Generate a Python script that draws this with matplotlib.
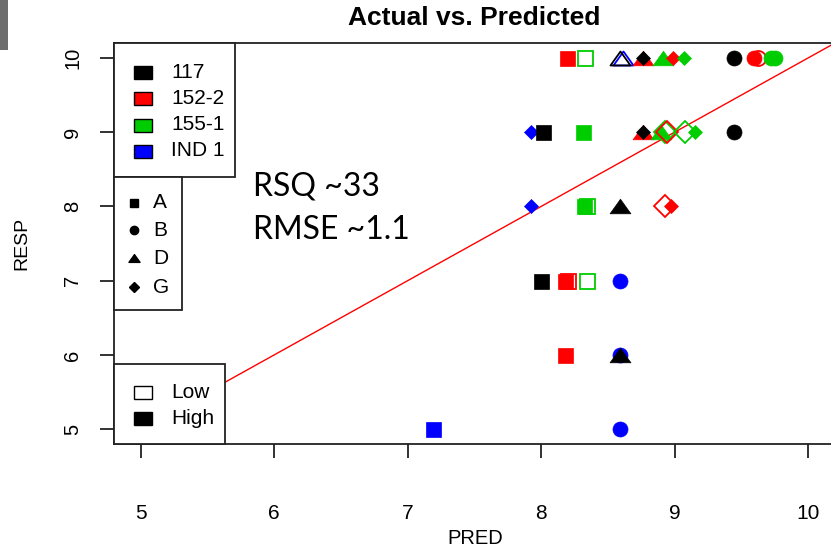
import matplotlib
matplotlib.use("Agg")
import matplotlib.pyplot as plt
from matplotlib.patches import Rectangle
from matplotlib.lines import Line2D
from matplotlib.path import Path

W, H, DPI = 831, 551, 100

# ---- observations -------------------------------------------------------
pred = [8.19, 8.33, 8.61, 8.59, 8.76, 8.76, 8.91, 8.99, 9.07, 9.44, 9.59, 9.62, 9.72, 9.75,
        7.92, 8.01, 8.31, 8.76, 8.76, 8.90, 8.93, 8.94, 9.08, 9.15, 9.44,
        7.92, 8.32, 8.34, 8.59, 8.93, 8.97,
        8.00, 8.18, 8.20, 8.34, 8.59,
        8.18, 8.59, 8.59,
        7.19, 8.59]
resp = [10, 10, 10, 10, 10, 10, 10, 10, 10, 10, 10, 10, 10, 10,
        9, 9, 9, 9, 9, 9, 9, 9, 9, 9, 9,
        8, 8, 8, 8, 8, 8,
        7, 7, 7, 7, 7,
        6, 6, 6,
        5, 5]
line_id = ["152-2", "155-1", "IND 1", "117", "152-2", "117", "155-1", "152-2", "155-1", "117",
           "152-2", "152-2", "155-1", "155-1",
           "IND 1", "117", "155-1", "152-2", "117", "155-1", "155-1", "152-2", "155-1", "155-1", "117",
           "IND 1", "155-1", "155-1", "117", "152-2", "152-2",
           "117", "152-2", "152-2", "155-1", "IND 1",
           "152-2", "IND 1", "117",
           "IND 1", "IND 1"]
group = ["A", "A", "D", "D", "D", "G", "D", "G", "G", "B", "B", "B", "B", "B",
         "G", "A", "A", "D", "G", "D", "G", "G", "G", "G", "B",
         "G", "A", "A", "D", "G", "G",
         "A", "A", "A", "A", "B",
         "A", "B", "D",
         "A", "B"]
level = ["High", "Low", "Low", "Low", "High", "High", "High", "High", "High", "High", "High", "Low", "High", "High",
         "High", "High", "High", "High", "High", "High", "Low", "Low", "Low", "High", "High",
         "High", "High", "Low", "High", "Low", "High",
         "High", "High", "Low", "Low", "High",
         "High", "High", "High",
         "High", "High"]

lines = ["117", "152-2", "155-1", "IND 1"]
line_colors = ["#000000", "#FF0000", "#00CD00", "#0000FF"]
groups = ["A", "B", "D", "G"]
levels = ["Low", "High"]
x_ticks = [5, 6, 7, 8, 9, 10]
y_ticks = [5, 6, 7, 8, 9, 10]
fit_text = ["RSQ ~33", "RMSE ~1.1"]

# ---- styling ------------------------------------------------------------
FONT = "Liberation Sans"
tri = Path([(0, 0.7), (-1, -0.7), (1, -0.7), (0, 0.7)],
           [Path.MOVETO, Path.LINETO, Path.LINETO, Path.CLOSEPOLY])
group_marker = {"A": "s", "B": "o", "D": tri, "G": "D"}
group_size = {"A": 10.8, "B": 10.8, "D": 15.0, "G": 7.2}
open_size = {"A": 10.8, "B": 10.8, "D": 14.4, "G": 11.2}
color_of = dict(zip(lines, line_colors))

fig = plt.figure(figsize=(W / DPI, H / DPI), dpi=DPI)
fig.patch.set_facecolor("white")


def fx(x):
    return x / W


def fy(y):
    return 1 - y / H


ax = fig.add_axes([fx(114), fy(444), (835 - 114) / W, (444 - 43) / H])
ax.set_xlim(4.8, 10.2)
ax.set_ylim(4.8, 10.2)

# identity reference line
ax.axline((0, 0), slope=1, color="#FF0000", lw=1.0, zorder=1)

for x, y, ln, g, lv in zip(pred, resp, line_id, group, level):
    c = color_of[ln]
    if lv == "High":
        ax.plot([x], [y], linestyle="none", marker=group_marker[g], markersize=group_size[g],
                markerfacecolor=c, markeredgecolor=c, markeredgewidth=0.5, zorder=3,
                clip_on=False)
    else:
        ax.plot([x], [y], linestyle="none", marker=group_marker[g], markersize=open_size[g],
                markerfacecolor="none", markeredgecolor=c, markeredgewidth=1.3, zorder=3,
                clip_on=False)

for s in ax.spines.values():
    s.set_color("#222222")
    s.set_linewidth(1.3)

ax.set_xticks(x_ticks)
ax.set_yticks(y_ticks)
ax.set_xticklabels([str(t) for t in x_ticks], fontfamily=FONT, fontsize=15)
ax.set_yticklabels([str(t) for t in y_ticks], fontfamily=FONT, fontsize=14.5,
                   rotation=90, va="center")
ax.tick_params(axis="x", direction="out", length=10, width=1.3, color="#222222", pad=33)
ax.tick_params(axis="y", direction="out", length=10, width=1.3, color="#222222", pad=13)

fig.text(fx(474), fy(18), "Actual vs. Predicted", ha="center", va="center",
         fontfamily=FONT, fontsize=19, fontweight="bold")
fig.text(fx(475), fy(538), "PRED", ha="center", va="center", fontfamily=FONT, fontsize=14.5)
fig.text(fx(22), fy(243), "RESP", ha="center", va="center", rotation=90,
         fontfamily=FONT, fontsize=14)

# fit statistics
fig.text(fx(253), fy(186), fit_text[0], ha="left", va="center", fontfamily="Lato", fontsize=23)
fig.text(fx(253), fy(230), fit_text[1], ha="left", va="center", fontfamily="Lato", fontsize=23)


def box(x0, y0, x1, y1):
    fig.add_artist(Rectangle((fx(x0), fy(y1)), fx(x1) - fx(x0), fy(y0) - fy(y1),
                             transform=fig.transFigure, facecolor="white",
                             edgecolor="#222222", lw=1.3, zorder=5))


def swatch(xc, yc, face, edge="#000000"):
    w, h = 18, 13
    fig.add_artist(Rectangle((fx(xc - w / 2), fy(yc + h / 2)), w / W, h / H,
                             transform=fig.transFigure, facecolor=face,
                             edgecolor=edge, lw=1.0, zorder=6))


def label(xl, yc, s):
    fig.text(fx(xl), fy(yc), s, ha="left", va="center", fontfamily=FONT,
             fontsize=15, zorder=7)


# legend: line
box(114, 43, 235, 177)
for name, col, yc in zip(lines, line_colors, [72, 99, 125, 151]):
    swatch(143, yc, col)
    label(171, yc, name)

# legend: group
box(114, 177, 182, 310)
small = {"A": 5.5, "B": 6.0, "D": 8.0, "G": 4.8}
for g, yc in zip(groups, [203, 230, 258, 287]):
    fig.add_artist(Line2D([fx(134)], [fy(yc)], transform=fig.transFigure, linestyle="none",
                          marker=group_marker[g], markersize=small[g], color="black", zorder=6))
    label(153, yc, g)

# legend: level
box(114, 364, 225, 444)
for lv, yc in zip(levels, [392, 418]):
    swatch(143, yc, "white" if lv == "Low" else "black")
    label(171, yc, lv)

# window edge strip
fig.add_artist(Rectangle((0, fy(50)), fx(8), 50 / H, transform=fig.transFigure,
                         facecolor="#6d6d6d", edgecolor="none", zorder=8))

fig.savefig("out.png", dpi=DPI)
